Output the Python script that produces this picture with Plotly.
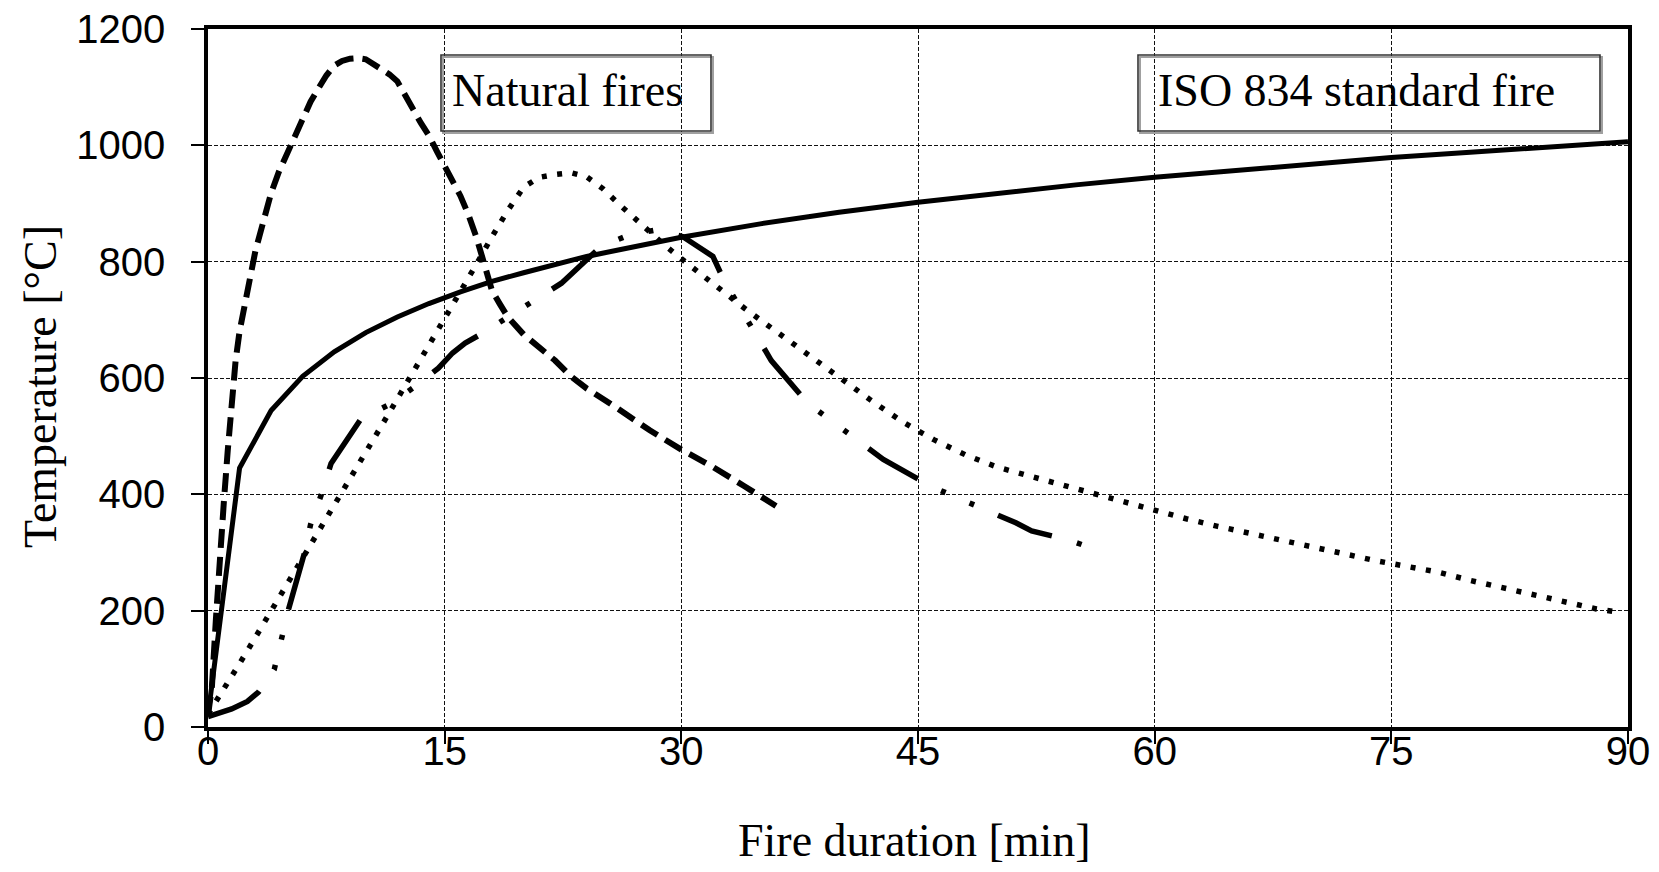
import plotly.graph_objects as go

# ---------------- data ----------------
# ISO 834 standard fire (solid)
iso_t = [0, 2, 4, 6, 8, 10, 12, 14, 16, 18, 20, 22, 24, 26, 28, 30, 35, 40, 45, 50, 55, 60, 65, 70, 75, 80, 85, 90]
iso_T = [20, 445, 544, 603, 645, 678, 705, 728, 748, 766, 781, 796, 809, 820, 832, 842, 865, 885, 902, 918, 932, 945, 957, 968, 979, 988, 997, 1006]

# Natural fire 1 (short dashes, peak ~1150 C)
nf1_t = [0, 0.25, 0.5, 0.75, 1, 1.25, 1.5, 1.75, 2, 2.5, 3, 3.5, 4, 4.5, 5, 5.5, 6, 6.5, 7, 7.5, 8, 8.5, 9, 9.5,
         10, 10.5, 11, 11.5, 12, 12.5, 13, 13.5, 14, 14.5, 15, 15.5, 16, 16.5, 17, 17.5, 18, 18.5, 19, 20, 21, 22,
         23, 24, 26, 28, 30, 32, 34, 36]
nf1_T = [20, 70, 185, 300, 385, 475, 570, 630, 680, 750, 818, 868, 918, 955, 985, 1015, 1048, 1075, 1098, 1120,
         1137, 1145, 1149, 1150, 1148, 1140, 1131, 1122, 1110, 1088, 1062, 1038, 1017, 990, 965, 943, 913, 881,
         843, 797, 750, 727, 705, 675, 652, 630, 603, 582, 547, 510, 477, 447, 414, 380]

# Natural fire 2 (dotted, peak ~950 C)
nf2_t = [0, 1, 2, 3, 4, 5, 6, 7, 8, 9, 10, 11, 12, 13, 14, 15, 16, 17, 18, 19, 20, 21, 22, 23, 24, 25, 26, 27,
         28, 29, 30, 31, 32, 33, 34, 35, 36, 38, 40, 42, 44, 46, 48, 50, 52, 54, 56, 58, 60, 62, 64, 66, 68, 70,
         72, 74, 76, 78, 80, 82, 84, 86, 88, 89.5]
nf2_T = [22, 64, 109, 154, 199, 244, 290, 336, 380, 428, 473, 518, 564, 610, 655, 700, 745, 795, 843, 888, 928,
         945, 950, 953, 946, 926, 900, 875, 852, 827, 805, 783, 761, 739, 720, 700, 680, 640, 600, 562, 525, 494,
         468, 447, 432, 417, 401, 387, 373, 358, 345, 333, 320, 308, 298, 286, 276, 266, 252, 240, 226, 214,
         203, 197]

# Natural fire 3 (long dash - dot - dot)
nf3_t = [0, 1.5, 2.5, 3.2, 4.2, 4.7, 5.1, 6.1, 6.5, 7.2, 7.8, 9.7, 11.6, 13.1, 14.6, 15.5, 16.3, 17.4, 22.4,
         24.9, 26.7, 28.5, 30.1, 32.0, 32.7, 35.7, 38.0, 42.8, 45.8, 51.2, 52.2, 54.6, 56.5]
nf3_T = [18, 31, 44, 60, 99, 152, 202, 298, 348, 401, 453, 530, 556, 585, 617, 643, 660, 677, 763, 826, 846,
         855, 843, 809, 768, 630, 557, 460, 414, 351, 337, 321, 303]

x_ticks = [0, 15, 30, 45, 60, 75, 90]
y_ticks = [0, 200, 400, 600, 800, 1000, 1200]

x_title = "Fire duration [min]"
y_title = "Temperature [°C]"
label_natural = "Natural fires"
label_iso = "ISO 834 standard fire"

# ---------------- layout geometry (page pixels) ----------------
W, H = 1659, 872
PL, PR, PT, PB = 208, 1628, 29, 727          # plot area in page pixels
ML, MT, MR, MB = PL, PT, W - PR, H - PB
PW, PH = PR - PL, PB - PT


def px(xp):
    return (xp - PL) / PW


def py(yp):
    return (PB - yp) / PH


SERIF = "Liberation Serif, Times New Roman, serif"
SANS = "Liberation Sans, Arial, sans-serif"

fig = go.Figure()
fig.add_trace(go.Scatter(x=nf2_t, y=nf2_T, mode="lines",
                         line=dict(color="black", width=5.5, dash="5px,10.5px"), showlegend=False))
fig.add_trace(go.Scatter(x=nf3_t, y=nf3_T, mode="lines",
                         line=dict(color="black", width=5.5,
                                   dash="58px,26px,5px,26px,5px,26px"), showlegend=False))
fig.add_trace(go.Scatter(x=nf1_t, y=nf1_T, mode="lines",
                         line=dict(color="black", width=6, dash="19px,9px"), showlegend=False))
fig.add_trace(go.Scatter(x=iso_t, y=iso_T, mode="lines",
                         line=dict(color="black", width=5), showlegend=False))

axis_common = dict(
    showline=True, linewidth=3.5, linecolor="black", mirror=True,
    ticks="outside", ticklen=13, tickwidth=1.5, tickcolor="black",
    showgrid=True, gridcolor="#111111", gridwidth=1.2, griddash="4px,2px",
    zeroline=False, ticklabeloverflow="allow",
    tickfont=dict(family=SANS, size=40, color="black"),
)

fig.update_xaxes(range=[0, 90], tickvals=x_ticks, ticktext=[str(v) for v in x_ticks],
                 ticklabelstandoff=-27, **axis_common)
fig.update_yaxes(range=[0, 1200], tickvals=y_ticks, ticktext=[str(v) for v in y_ticks],
                 ticklabelstandoff=18, **axis_common)

shapes = []
annotations = []
# text boxes
for (x0, x1, tx, txt) in [(441, 711, 450, label_natural), (1138, 1600, 1156, label_iso)]:
    shapes.append(dict(type="rect", xref="paper", yref="paper",
                       x0=px(x0 + 2), x1=px(x1 + 2), y0=py(131 + 2), y1=py(55 + 2),
                       line=dict(color="#a0a0a0", width=2), fillcolor="rgba(0,0,0,0)"))
    shapes.append(dict(type="rect", xref="paper", yref="paper",
                       x0=px(x0), x1=px(x1), y0=py(131), y1=py(55),
                       line=dict(color="#333333", width=1.6), fillcolor="rgba(0,0,0,0)"))
    annotations.append(dict(xref="paper", yref="paper", x=px(tx), y=py(90),
                            xanchor="left", yanchor="middle", showarrow=False,
                            text=txt, font=dict(family=SERIF, size=46, color="black")))

# axis titles
annotations.append(dict(xref="paper", yref="paper", x=px(914), y=py(841),
                        xanchor="center", yanchor="middle", showarrow=False,
                        text=x_title, font=dict(family=SERIF, size=46, color="black")))
annotations.append(dict(xref="paper", yref="paper", x=px(40), y=py(387),
                        xanchor="center", yanchor="middle", showarrow=False, textangle=-90,
                        text=y_title, font=dict(family=SERIF, size=46, color="black")))

fig.update_layout(
    width=W, height=H,
    margin=dict(l=ML, r=MR, t=MT, b=MB, autoexpand=False),
    paper_bgcolor="white", plot_bgcolor="white",
    shapes=shapes, annotations=annotations,
    showlegend=False,
)

fig.write_html("out.html", config={"displayModeBar": False},
               post_script="document.body.style.margin='0px';document.body.style.padding='0px';")
